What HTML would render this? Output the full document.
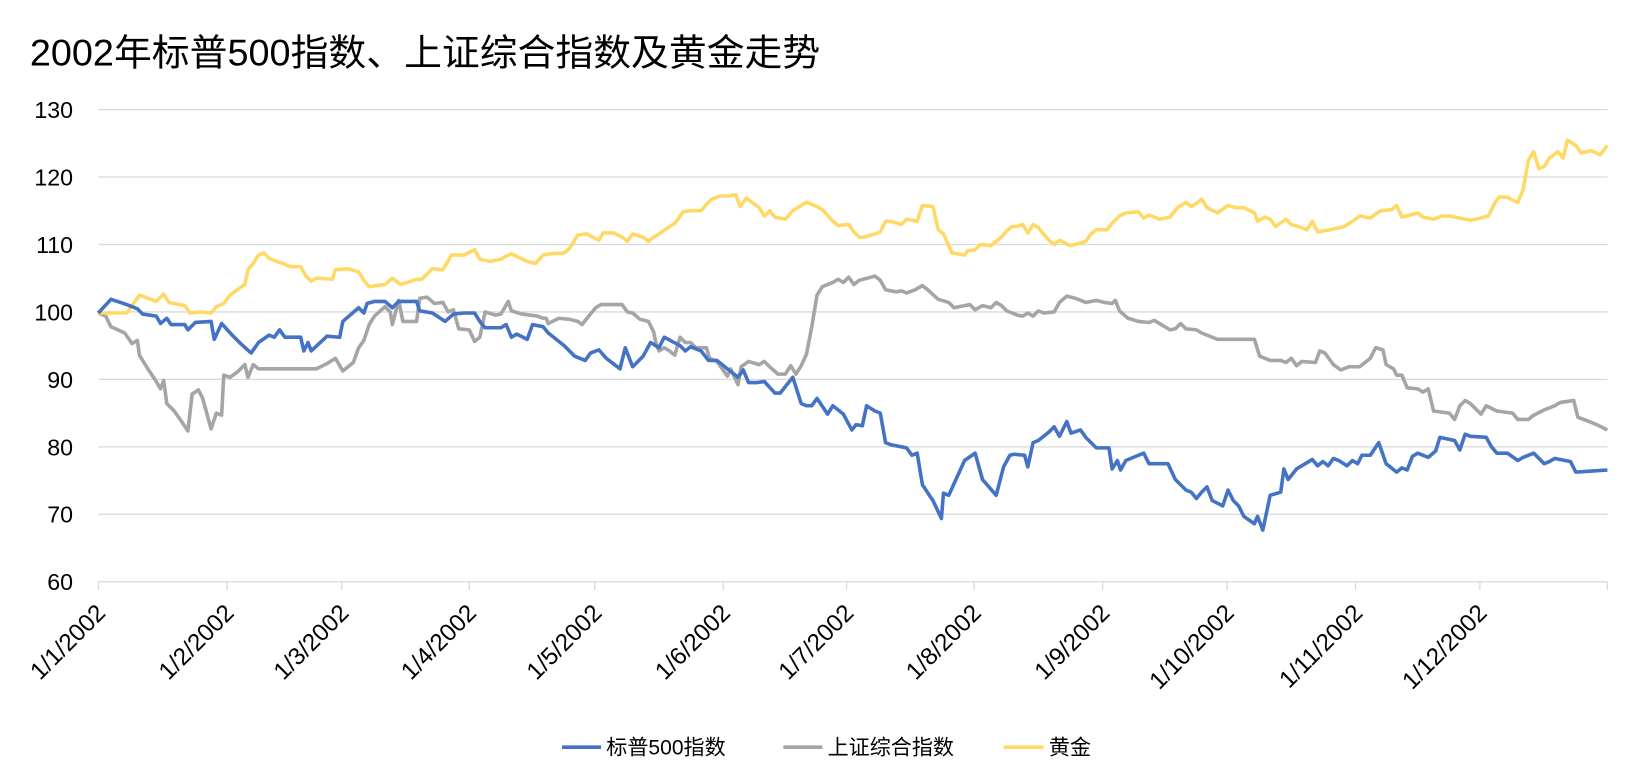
<!DOCTYPE html>
<html><head><meta charset="utf-8"><style>
html,body{margin:0;padding:0;background:#fff;}
svg{display:block;}
text{font-family:"Liberation Sans","Noto Sans CJK SC",sans-serif;fill:#000;}
</style></head><body>
<svg width="1652" height="783" viewBox="0 0 1567 743" xmlns="http://www.w3.org/2000/svg">
<text x="28" y="62" font-size="35" textLength="750" lengthAdjust="spacingAndGlyphs">2002年标普500指数、上证综合指数及黄金走势</text>
<g stroke="#d9d9d9" stroke-width="1.2">
<line x1="93" y1="104" x2="1525" y2="104"/><line x1="93" y1="168" x2="1525" y2="168"/>
<line x1="93" y1="232" x2="1525" y2="232"/><line x1="93" y1="296" x2="1525" y2="296"/>
<line x1="93" y1="360" x2="1525" y2="360"/><line x1="93" y1="424" x2="1525" y2="424"/>
<line x1="93" y1="488" x2="1525" y2="488"/><line x1="93" y1="552" x2="1525" y2="552"/>
<line x1="93" y1="552" x2="93" y2="560"/><line x1="215" y1="552" x2="215" y2="560"/><line x1="324" y1="552" x2="324" y2="560"/><line x1="445" y1="552" x2="445" y2="560"/><line x1="564" y1="552" x2="564" y2="560"/><line x1="686" y1="552" x2="686" y2="560"/><line x1="803" y1="552" x2="803" y2="560"/><line x1="924" y1="552" x2="924" y2="560"/><line x1="1046" y1="552" x2="1046" y2="560"/><line x1="1164" y1="552" x2="1164" y2="560"/><line x1="1286" y1="552" x2="1286" y2="560"/><line x1="1404" y1="552" x2="1404" y2="560"/><line x1="1525" y1="552" x2="1525" y2="560"/>
</g>
<g font-size="22" text-anchor="end">
<text x="69" y="112">130</text><text x="69" y="176">120</text><text x="69" y="240">110</text><text x="69" y="304">100</text><text x="69" y="368">90</text><text x="69" y="432">80</text><text x="69" y="496">70</text><text x="69" y="560">60</text>
</g>
<g font-size="23" text-anchor="end">
<text transform="translate(101,583) rotate(-45)">1/1/2002</text>
<text transform="translate(223,583) rotate(-45)">1/2/2002</text>
<text transform="translate(332,583) rotate(-45)">1/3/2002</text>
<text transform="translate(453,583) rotate(-45)">1/4/2002</text>
<text transform="translate(572,583) rotate(-45)">1/5/2002</text>
<text transform="translate(694,583) rotate(-45)">1/6/2002</text>
<text transform="translate(811,583) rotate(-45)">1/7/2002</text>
<text transform="translate(932,583) rotate(-45)">1/8/2002</text>
<text transform="translate(1054,583) rotate(-45)">1/9/2002</text>
<text transform="translate(1172,583) rotate(-45)">1/10/2002</text>
<text transform="translate(1294,583) rotate(-45)">1/11/2002</text>
<text transform="translate(1412,583) rotate(-45)">1/12/2002</text>
</g>
<g fill="none" stroke-width="3.4" stroke-linejoin="round">
<polyline stroke="#a5a5a5" points="93,297 100,300 105,310 118,316 125,326 130,323 132,337 140,350 148,362 152,369 155,361 158,383 165,390 172,400 178,409 182,374 188,370 192,378 200,407 205,392 210,394 212,356 218,358 225,353 232,346 235,358 240,346 245,350 300,350 310,345 318,340 325,352 335,344 340,330 345,323 350,308 355,300 365,291 370,296 372,308 378,285 382,305 395,305 398,283 405,282 412,288 420,287 425,296 430,294 435,312 445,313 450,324 455,320 460,296 470,299 475,298 482,286 485,295 495,298 510,300 515,302 518,302 520,307 530,302 540,303 548,305 552,308 560,298 565,292 570,289 590,289 595,296 600,297 607,303 615,305 620,315 622,325 625,333 630,330 635,333 640,337 645,320 650,325 655,325 660,330 670,330 673,340 680,343 685,350 690,357 693,350 700,365 703,348 710,343 720,346 725,343 730,348 738,355 745,355 750,347 755,355 760,347 765,336 770,310 775,280 780,272 790,268 795,265 800,268 805,263 810,270 815,266 830,262 835,266 840,275 850,277 855,276 860,278 868,275 875,271 880,275 890,284 900,287 905,292 915,290 920,289 925,294 932,290 940,292 945,287 950,290 955,295 965,299 970,300 975,297 980,300 985,295 990,297 1000,296 1005,287 1012,281 1020,283 1025,285 1030,287 1040,285 1048,287 1055,288 1058,285 1062,295 1070,302 1080,305 1090,306 1095,304 1100,307 1110,313 1115,312 1120,307 1125,312 1135,313 1140,316 1150,320 1155,322 1190,322 1195,338 1205,342 1215,342 1220,344 1225,340 1230,347 1235,343 1248,344 1252,333 1257,335 1265,346 1272,351 1280,348 1290,348 1300,340 1305,330 1312,332 1315,346 1322,350 1325,356 1330,356 1335,368 1345,369 1350,372 1355,369 1360,390 1375,392 1380,398 1385,385 1390,380 1395,383 1405,393 1410,385 1420,390 1435,392 1440,398 1450,398 1455,394 1465,389 1475,385 1480,382 1493,380 1497,396 1505,399 1515,403 1525,408"/>
<polyline stroke="#ffd966" points="93,297 100,297 120,297 125,290 132,280 140,283 148,286 155,279 160,287 175,290 180,297 190,296 200,297 205,291 212,288 218,280 225,275 232,270 235,256 240,250 245,242 250,240 255,245 262,248 268,250 275,253 285,253 290,262 295,267 300,264 315,265 318,256 330,255 340,258 345,266 350,272 365,270 372,264 380,270 395,265 400,265 410,255 420,256 428,242 440,242 450,237 455,246 465,248 475,246 480,243 485,241 500,248 508,250 515,242 520,241 535,240 540,236 548,223 557,222 562,225 568,228 572,221 582,221 590,225 595,229 600,222 610,225 615,229 620,225 625,222 635,215 640,212 648,201 655,200 665,200 670,194 675,189 683,186 690,186 698,185 702,196 708,188 720,197 725,205 730,200 735,206 745,208 752,200 760,195 765,192 775,196 780,199 790,210 795,214 805,213 810,220 815,225 820,225 830,222 835,220 840,210 845,210 855,213 860,208 870,210 875,195 885,196 890,218 895,222 903,240 915,242 918,238 925,237 930,232 940,233 950,225 955,219 960,215 965,215 970,213 975,221 980,213 985,216 990,222 995,228 1000,232 1005,228 1015,233 1020,232 1030,229 1035,222 1040,218 1050,218 1055,212 1062,205 1068,202 1080,201 1085,207 1090,204 1100,208 1110,206 1117,197 1125,192 1130,196 1135,193 1140,189 1145,197 1155,202 1165,195 1172,197 1180,197 1190,202 1193,210 1200,206 1205,208 1210,215 1220,208 1225,213 1232,215 1240,218 1245,210 1250,220 1262,218 1275,215 1280,212 1290,205 1300,207 1305,203 1310,200 1320,199 1325,195 1330,206 1345,202 1350,206 1360,208 1368,205 1375,205 1385,207 1395,209 1400,208 1412,205 1418,193 1422,187 1430,187 1435,190 1440,192 1445,180 1450,152 1455,144 1460,160 1465,158 1470,150 1478,144 1483,150 1487,133 1495,138 1500,145 1510,143 1518,147 1525,138"/>
<polyline stroke="#4472c4" points="93,297 105,284 120,289 130,293 135,298 148,300 152,307 158,302 162,308 175,308 178,313 185,306 200,305 203,322 210,307 220,318 228,326 238,335 245,325 255,318 260,320 265,313 270,320 285,320 288,333 292,325 295,333 310,319 322,320 325,305 340,292 345,297 348,288 355,286 365,286 372,292 378,286 395,286 398,295 410,297 422,305 430,298 440,297 450,297 455,305 460,311 475,311 480,308 485,320 490,317 500,322 505,308 515,310 520,316 535,328 545,338 555,342 560,335 568,332 575,340 588,350 593,330 600,348 610,338 617,325 625,330 630,320 645,328 650,333 655,329 665,333 672,342 680,342 690,350 700,358 705,351 710,363 718,363 725,362 735,373 740,373 752,358 760,383 765,385 770,385 775,378 785,393 790,385 800,393 808,408 812,403 818,404 822,385 830,390 835,392 840,420 845,422 860,425 865,432 870,430 875,460 885,475 893,492 895,468 900,470 915,437 925,430 932,455 945,470 952,443 958,432 962,431 972,432 975,443 980,420 985,418 995,410 1000,405 1005,414 1012,400 1016,411 1025,408 1030,415 1040,425 1052,425 1055,445 1060,437 1063,446 1068,437 1080,432 1085,430 1090,440 1100,440 1108,440 1115,455 1125,465 1130,467 1135,473 1140,467 1145,462 1150,475 1160,480 1165,465 1170,475 1175,480 1180,490 1190,497 1193,490 1198,503 1205,470 1215,467 1218,445 1222,455 1230,445 1245,436 1250,442 1255,438 1260,442 1265,435 1270,437 1278,442 1283,437 1288,440 1292,432 1300,432 1308,420 1315,440 1325,448 1330,444 1335,446 1340,433 1345,430 1355,434 1362,428 1366,415 1380,418 1385,427 1390,412 1395,414 1410,415 1415,424 1420,430 1430,430 1440,437 1445,434 1455,430 1465,440 1470,438 1475,435 1490,438 1495,448 1510,447 1525,446"/>
</g>
<g stroke-width="3.4">
<line x1="533" y1="709" x2="570" y2="709" stroke="#4472c4"/>
<line x1="743" y1="709" x2="780" y2="709" stroke="#a5a5a5"/>
<line x1="952" y1="709" x2="990" y2="709" stroke="#ffd966"/>
</g>
<g font-size="20">
<text x="575" y="716">标普500指数</text>
<text x="785" y="716">上证综合指数</text>
<text x="995" y="716">黄金</text>
</g>
</svg>
</body></html>
